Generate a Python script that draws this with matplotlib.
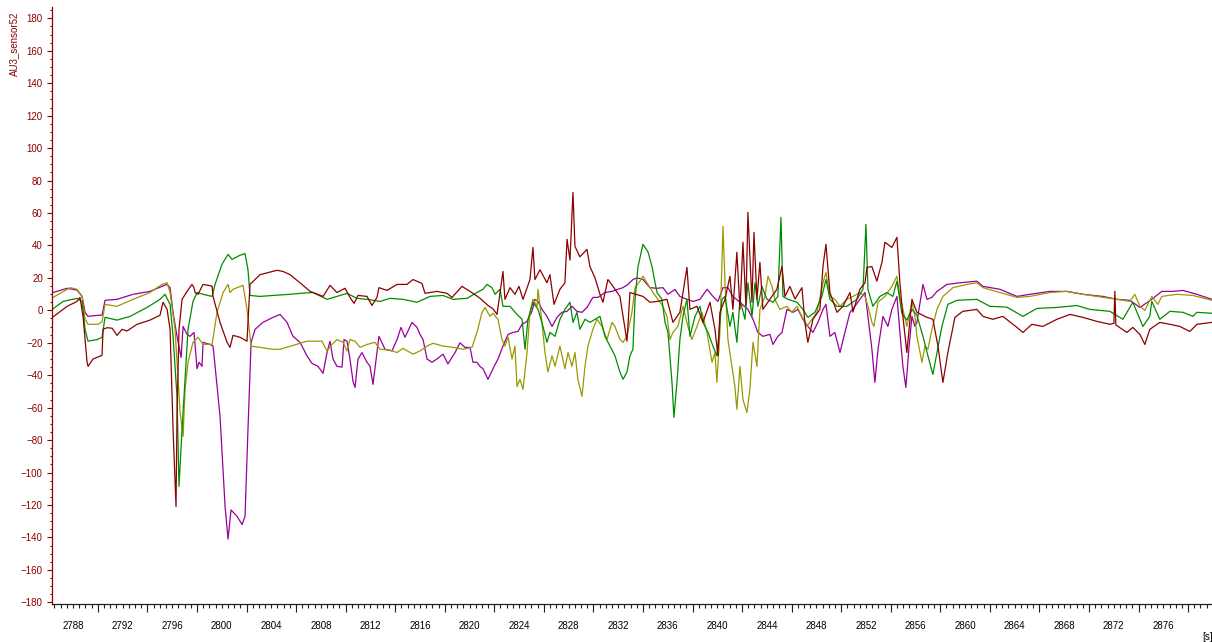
import matplotlib
matplotlib.use("Agg")
import matplotlib.pyplot as plt
from matplotlib.ticker import MultipleLocator, FixedLocator

plt.rcParams['font.family'] = ['Liberation Sans', 'DejaVu Sans']

# channel traces, time in s
t_red = [2786.39, 2787.52, 2788.32, 2788.56, 2788.81, 2789.13, 2789.21, 2789.61, 2790.34, 2790.42,
         2790.74, 2791.15, 2791.55, 2791.95, 2792.36, 2793.16, 2794.21, 2795.02, 2795.26, 2795.59,
         2795.83, 2796.07, 2796.31, 2796.39, 2796.55, 2796.80, 2797.20, 2797.60, 2797.76, 2797.85,
         2798.09, 2798.49, 2799.22, 2799.30, 2799.86, 2800.43, 2800.67, 2800.91, 2801.48, 2802.04,
         2802.28, 2803.09, 2804.46, 2804.95, 2805.51, 2806.32, 2807.13, 2808.18, 2808.74, 2809.30,
         2809.95, 2810.35, 2810.68, 2811.00, 2811.73, 2812.13, 2812.53, 2812.69, 2813.34, 2814.15,
         2814.95, 2815.44, 2816.16, 2816.41, 2817.37, 2818.18, 2818.59, 2819.39, 2820.04, 2820.84,
         2821.49, 2821.89, 2822.22, 2822.70, 2822.86, 2823.27, 2823.67, 2823.99, 2824.32, 2824.88,
         2825.12, 2825.28, 2825.69, 2826.25, 2826.49, 2826.82, 2827.30, 2827.70, 2827.87, 2828.11,
         2828.35, 2828.51, 2828.91, 2829.48, 2829.72, 2830.13, 2830.53, 2830.77, 2831.17, 2831.58,
         2832.14, 2832.71, 2832.95, 2834.00, 2834.56, 2835.13, 2835.94, 2836.42, 2836.98, 2837.55,
         2837.79, 2838.36, 2838.84, 2839.41, 2839.81, 2840.05, 2840.21, 2840.62, 2841.02, 2841.26,
         2841.58, 2841.83, 2842.07, 2842.31, 2842.47, 2842.80, 2842.96, 2843.20, 2843.44, 2843.68,
         2844.25, 2844.81, 2845.22, 2845.46, 2845.86, 2846.27, 2846.83, 2847.07, 2847.31, 2847.72,
         2848.28, 2848.53, 2848.77, 2849.09, 2849.66, 2850.14, 2850.71, 2850.95, 2851.51, 2851.92,
         2852.08, 2852.48, 2852.88, 2853.29, 2853.53, 2854.09, 2854.50, 2854.74, 2854.98, 2855.30,
         2855.71, 2856.11, 2856.92, 2857.40, 2857.81, 2858.21, 2858.61, 2859.18, 2859.82, 2860.95,
         2861.44, 2862.24, 2863.05, 2864.18, 2864.67, 2865.39, 2866.28, 2867.41, 2868.46, 2869.51,
         2870.64, 2871.69, 2872.01, 2872.09, 2872.17, 2873.06, 2873.54, 2874.11, 2874.51, 2874.91,
         2875.72, 2876.53, 2877.33, 2878.14, 2878.71, 2879.92]
v_red = [-4, 2.5, 5.5, 8, -4, -32, -34.5, -30, -27.7, -11.7,
         -10.7, -11, -15.4, -11.7, -12.7, -8.6, -6, -3, 5, 0.6,
         -11.7, -73, -121, -65, -11.7, 6.8, 11.7, 16, 14, 11,
         9.9, 16, 15, 8.6, -7.4, -19.7, -22.8, -15.4, -16.6, -19,
         16, 22, 24.7, 24, 22, 17, 11.7, 8.6, 15.4, 11,
         13.6, 8, 4.3, 9.2, 8.6, 3, 8, 14, 12.3, 16,
         16, 19, 16.6, 10.5, 11.7, 10.5, 8, 14.8, 11.7, 7.5,
         3, 1, -2.5, 24, 6.8, 14, 9.9, 14.8, 6.8, 19,
         38.8, 19, 25, 17, 22, 3.7, 13, 17, 43.8, 31,
         72.7, 39.5, 33, 37.6, 27, 20, 9.9, 5, 19, 14.8,
         8.6, -19, 11, 8.6, 5, 5.5, 6.8, -7.4, -1.2, 26.5,
         0.6, 2.5, -7.4, 5, -11.7, -28, -1.2, 6.8, 21, 0.6,
         35.8, 0.6, 42, 3, 60.4, 5, 48, 6.8, 29.6, 0.6,
         6.8, 13, 27, 8.6, 14.8, 7, 14, -7.4, -19.7, -5.5,
         0.6, 27, 40.7, 11, -1.2, 2.5, 11, -1, 13, 17,
         26.5, 27, 18, 29.6, 42, 38.8, 45, 17, -3.7, -26,
         6.8, -1.2, -4.3, -5.5, -22, -44.4, -26, -4.3, -0.6, 0.6,
         -3.7, -5.5, -3.7, -10.5, -13.6, -8.6, -9.9, -5.5, -2.5, -4.3,
         -6.8, -8.6, -8, 11.7, -9, -13.6, -10.5, -14.8, -21, -11.7,
         -7.4, -8.6, -9.9, -13, -8.6, -7.4]

t_green = [2786.39, 2787.19, 2788.32, 2788.73, 2788.97, 2789.21, 2789.94, 2790.34, 2790.58, 2791.55,
           2792.60, 2793.97, 2795.02, 2795.42, 2795.83, 2796.07, 2796.39, 2796.55, 2796.80, 2797.04,
           2797.28, 2797.68, 2798.01, 2798.49, 2799.22, 2799.46, 2800.02, 2800.51, 2800.83, 2801.48,
           2801.88, 2802.12, 2802.28, 2803.09, 2804.14, 2805.51, 2806.32, 2807.37, 2808.50, 2809.30,
           2810.11, 2810.92, 2811.73, 2812.78, 2813.58, 2814.63, 2815.76, 2816.81, 2817.86, 2818.67,
           2819.80, 2820.60, 2821.09, 2821.41, 2821.81, 2822.06, 2822.46, 2822.70, 2823.27, 2823.83,
           2824.24, 2824.48, 2824.72, 2825.12, 2825.53, 2825.93, 2826.25, 2826.49, 2826.90, 2827.30,
           2827.70, 2828.11, 2828.35, 2828.67, 2828.91, 2829.32, 2829.72, 2830.13, 2830.53, 2830.93,
           2831.34, 2831.74, 2832.14, 2832.39, 2832.71, 2832.95, 2833.19, 2833.36, 2833.60, 2834.00,
           2834.41, 2834.73, 2835.13, 2835.53, 2835.78, 2836.02, 2836.34, 2836.50, 2836.75, 2836.98,
           2837.23, 2837.55, 2837.79, 2838.20, 2838.60, 2838.84, 2839.25, 2839.65, 2839.97, 2840.38,
           2840.62, 2841.02, 2841.26, 2841.58, 2841.83, 2842.23, 2842.47, 2842.80, 2843.04, 2843.28,
           2843.60, 2844.01, 2844.49, 2844.89, 2845.14, 2845.30, 2845.70, 2846.43, 2846.91, 2847.31,
           2847.88, 2848.44, 2848.77, 2849.09, 2849.66, 2850.46, 2851.27, 2851.76, 2852.00, 2852.16,
           2852.56, 2853.13, 2853.69, 2854.17, 2854.50, 2854.90, 2855.30, 2855.71, 2856.11, 2856.60,
           2857.00, 2857.40, 2857.73, 2858.13, 2858.61, 2859.34, 2860.95, 2862.00, 2863.37, 2864.67,
           2865.80, 2867.41, 2869.02, 2870.07, 2871.69, 2872.74, 2873.54, 2874.11, 2874.35, 2874.91,
           2875.07, 2875.72, 2876.53, 2877.58, 2878.39, 2878.71, 2879.92]
v_green = [1, 5.5, 7.4, 5.5, -11.7, -19, -18, -16.6, -4.3, -6,
           -3.7, 1.8, 6.8, 9.9, 3.7, -16, -53, -108.5, -73, -42.5,
           -11.7, 5.5, 11, 9.9, 8.6, 16, 28.4, 34.5, 31.4, 34,
           35, 25, 9.2, 8.6, 9.2, 9.9, 10.5, 11, 6.8, 8.6,
           10.5, 7.4, 6.8, 5.5, 7.4, 6.8, 5, 8.6, 9.2, 6.8,
           7.4, 11, 13, 16, 14, 9.9, 13, 2.5, 2.5, -2.5,
           -5.5, -24, -5.5, 5, 0.6, -9.9, -19.7, -13.6, -16, -5.5,
           0.6, 5, -7.4, -1.2, -11.7, -5.5, -7.4, -5.5, -3.7, -16,
           -22, -28, -38, -42.5, -38, -28, -24, 6.8, 27, 40.7,
           36, 27, 11, 6.8, -7.4, -13.6, -44, -66, -44, -18,
           -3.7, 6.8, -16, -3.7, 2.5, -7.4, -13.6, -22, -28, 6.8,
           8.6, -9.9, -1.2, -19.7, 6.8, -5.5, 17, -3.7, 17, 2.5,
           14.8, 6.8, 5, 8.6, 57.3, 8.6, 6.8, 5, 0.6, -4.3,
           -1.2, 8.6, 19, 6.8, 2.5, 2.5, 6.8, 13, 53, 13,
           2.5, 8.6, 11, 8.6, 18, -2, -6, 0.6, -3, -16,
           -28, -39.5, -26, -9.9, 3.7, 6.2, 6.8, 2.5, 2, -3.7,
           1.2, 1.8, 3, 0.6, -0.6, -5.5, 5, -5.5, -9.9, -3.7,
           5.5, -5.5, -0.6, -1.2, -3.7, -1.2, -1.8]

t_olive = [2786.39, 2787.76, 2788.32, 2788.73, 2788.97, 2789.21, 2790.02, 2790.34, 2790.58, 2791.55,
           2792.84, 2794.21, 2795.18, 2795.59, 2795.83, 2796.23, 2796.64, 2796.88, 2797.04, 2797.28,
           2797.68, 2798.09, 2798.49, 2799.22, 2799.62, 2800.11, 2800.51, 2800.67, 2800.91, 2801.72,
           2802.04, 2802.37, 2803.09, 2804.14, 2804.71, 2805.75, 2806.88, 2808.09, 2808.50, 2808.90,
           2809.30, 2809.79, 2810.11, 2810.35, 2810.76, 2811.16, 2811.73, 2812.37, 2812.78, 2813.58,
           2814.15, 2814.63, 2815.44, 2816.00, 2816.57, 2817.05, 2817.86, 2818.67, 2819.47, 2820.20,
           2820.60, 2821.01, 2821.25, 2821.65, 2821.89, 2822.30, 2822.62, 2822.86, 2823.11, 2823.43,
           2823.67, 2823.83, 2824.07, 2824.32, 2824.64, 2824.88, 2825.12, 2825.45, 2825.53, 2825.85,
           2826.09, 2826.33, 2826.66, 2826.90, 2827.30, 2827.70, 2827.95, 2828.27, 2828.51, 2828.75,
           2829.08, 2829.32, 2829.56, 2829.96, 2830.29, 2830.69, 2831.09, 2831.50, 2831.74, 2832.14,
           2832.39, 2832.71, 2833.11, 2833.36, 2833.76, 2834.00, 2834.41, 2834.81, 2835.21, 2835.61,
           2835.94, 2836.18, 2836.42, 2836.82, 2837.23, 2837.63, 2837.95, 2838.36, 2838.76, 2839.17,
           2839.57, 2839.81, 2839.97, 2840.21, 2840.46, 2840.62, 2840.86, 2841.18, 2841.42, 2841.58,
           2841.83, 2842.07, 2842.39, 2842.63, 2842.88, 2843.20, 2843.44, 2843.84, 2844.09, 2844.41,
           2844.65, 2845.05, 2845.61, 2846.01, 2846.43, 2846.83, 2847.23, 2847.64, 2848.04, 2848.53,
           2848.77, 2849.09, 2849.49, 2849.90, 2850.46, 2850.95, 2851.51, 2851.92, 2852.16, 2852.48,
           2852.64, 2852.97, 2853.53, 2854.09, 2854.50, 2854.74, 2854.98, 2855.30, 2855.71, 2855.95,
           2856.11, 2856.52, 2856.76, 2857.00, 2857.32, 2857.73, 2858.21, 2859.02, 2860.15, 2860.95,
           2861.44, 2862.81, 2864.18, 2865.23, 2866.84, 2868.21, 2869.51, 2871.13, 2872.26, 2873.30,
           2873.70, 2874.11, 2874.51, 2875.07, 2875.56, 2875.88, 2877.09, 2878.39, 2879.92]
v_olive = [8, 14, 13, 8.6, -5.5, -8.6, -8.6, -7, 3.7, 2.5,
           6.8, 11, 16, 17, 11, -11.7, -63, -77.7, -48.7, -32,
           -19.7, -16.6, -21, -21, -1.2, 11, 16, 11, 13, 15.4,
           0.6, -22, -22.8, -24, -24, -21.6, -19, -19, -25, -21,
           -18, -19.7, -25, -18, -19, -22.8, -21, -19.7, -24, -24.5,
           -26, -23.4, -27, -25, -22, -20.3, -22, -22.8, -24, -22.8,
           -13.6, -1.2, 1.8, -3.7, -1.8, -5.5, -18, -22, -16.6, -30,
           -22, -47, -42.5, -48.7, -26, -1.2, 6.8, 2.5, 13, -7.4,
           -26, -38, -28, -34.5, -22, -36, -26, -34.5, -26, -42.5,
           -53, -34.5, -22, -11.7, -5.5, -9.9, -18, -7.4, -9.9, -18,
           -19.7, -16, -1.2, 14, 18, 21, 16, 11, 6.8, 2.5,
           -3.7, -18, -13.6, -9.9, 2.5, -9.9, -18, -9.9, -1.2, -13.6,
           -32, -26, -44.4, -13.6, 51.8, 17, -18, -34.5, -47, -61,
           -34.5, -55, -63, -48.7, -19.7, -34.5, 0.6, 8.6, 21, 15,
           6.8, 0.6, 2.5, -1.2, 2.5, -3.7, -9.9, -5.5, -1.2, 17,
           23.4, 8.6, 6.8, 2.5, 6.8, 8.6, 11, 8.6, 2.5, -7.4,
           -9.9, 5, 8.6, 14.8, 21, 8.6, 0.6, -9.9, 5, -3.7,
           -16, -32, -22, -24, -11.7, 0.6, 8.6, 14, 16, 17,
           14, 11, 8, 8.6, 11, 11.7, 9.9, 8, 6.8, 5.5,
           9.9, 2.5, 0, 8.6, 3.7, 8.6, 9.9, 9.2, 6.2]

t_purple = [2786.39, 2787.52, 2788.32, 2788.73, 2788.97, 2789.21, 2790.02, 2790.34, 2790.58, 2791.55,
            2792.84, 2794.21, 2795.18, 2795.59, 2795.83, 2796.07, 2796.39, 2796.72, 2796.88, 2797.20,
            2797.44, 2797.76, 2798.01, 2798.17, 2798.41, 2798.49, 2799.06, 2799.30, 2799.86, 2800.27,
            2800.51, 2800.75, 2801.24, 2801.64, 2801.88, 2802.12, 2802.37, 2802.69, 2803.33, 2804.14,
            2804.71, 2805.27, 2805.75, 2806.32, 2806.88, 2807.29, 2807.77, 2808.18, 2808.50, 2808.74,
            2808.98, 2809.30, 2809.71, 2809.87, 2810.11, 2810.35, 2810.60, 2810.76, 2811.00, 2811.32,
            2811.73, 2811.97, 2812.21, 2812.53, 2812.69, 2813.18, 2813.74, 2814.15, 2814.47, 2814.79,
            2815.36, 2815.76, 2816.00, 2816.25, 2816.57, 2816.97, 2817.37, 2817.86, 2818.26, 2818.83,
            2819.23, 2819.63, 2820.04, 2820.28, 2820.60, 2820.84, 2821.09, 2821.49, 2821.89, 2822.30,
            2822.70, 2823.11, 2823.51, 2823.91, 2824.24, 2824.64, 2825.04, 2825.28, 2825.53, 2825.85,
            2826.25, 2826.66, 2827.06, 2827.46, 2827.87, 2828.27, 2828.67, 2829.08, 2829.48, 2829.96,
            2830.37, 2830.93, 2831.50, 2831.98, 2832.39, 2832.79, 2833.19, 2833.52, 2834.00, 2834.56,
            2835.13, 2835.61, 2836.02, 2836.58, 2836.98, 2837.55, 2838.04, 2838.60, 2839.17, 2839.65,
            2840.05, 2840.46, 2840.86, 2841.26, 2841.83, 2842.47, 2842.88, 2843.28, 2843.68, 2844.25,
            2844.49, 2844.89, 2845.22, 2845.62, 2846.11, 2846.51, 2846.91, 2847.31, 2847.72, 2848.12,
            2848.53, 2848.77, 2849.09, 2849.49, 2849.90, 2850.30, 2850.71, 2851.11, 2851.51, 2851.92,
            2852.16, 2852.48, 2852.72, 2852.97, 2853.37, 2853.77, 2854.09, 2854.50, 2854.74, 2854.98,
            2855.22, 2855.46, 2855.71, 2855.95, 2856.11, 2856.60, 2856.92, 2857.32, 2857.73, 2858.53,
            2859.58, 2860.95, 2861.44, 2862.81, 2864.18, 2865.23, 2866.84, 2868.21, 2869.51, 2871.13,
            2872.26, 2873.30, 2874.11, 2875.07, 2875.88, 2876.77, 2877.58, 2878.71, 2879.92]
v_purple = [11, 13.6, 12.5, 8.6, -1.2, -3.7, -3, -3, 6.2, 6.8,
            9.9, 11.7, 14.8, 16, 14, -1.2, -16, -29, -9.9, -14.8,
            -16, -13.6, -36, -32, -34.5, -19.7, -21, -22, -65, -121,
            -141, -123, -127, -132, -127, -73, -19.7, -11.7, -7.4, -4.3,
            -2.5, -7.4, -16, -19.7, -28, -32.7, -34.5, -38.8, -26, -19,
            -30, -34.5, -35, -18, -19, -30, -44, -47.5, -30, -26,
            -32, -34.5, -45.6, -26, -16, -24, -25, -18, -10.5, -16.6,
            -7.4, -10.5, -14.8, -18, -30, -32, -30, -27, -33, -26,
            -20, -22.8, -22.8, -32, -32, -34.5, -36, -42.5, -36, -30,
            -22, -14.8, -13.6, -13, -8.6, -6.8, -0.6, 6.8, 5.5, 0.6,
            -3.7, -9.9, -4.3, -1.2, -0.6, 2.5, -0.6, -1.2, 1.8, 8,
            8, 11, 11.7, 13, 14, 16, 19, 20, 19, 14,
            13.6, 14, 9.9, 12.9, 8.6, 6.8, 5.5, 6.8, 13, 8.6,
            5.5, 14, 14, 8.6, 5, 0.6, -5.5, -13.6, -16, -14.8,
            -21, -16, -13.6, 0.6, -1.2, 0.6, -5.5, -9.9, -13.6, -7.4,
            0.6, 3.7, -16, -13.6, -26, -13.6, -1.2, 2.5, 6.8, 11,
            -3.7, -24, -44.4, -24, -3.7, -9.9, 0.6, 8.6, -13.6, -34.5,
            -47.5, -24, -3.7, -9.9, -7.4, 16, 6.8, 8, 11.7, 16,
            17, 18, 14.8, 13, 8.6, 9.9, 11.7, 11.7, 9.9, 8.6,
            6.8, 6.2, 1.8, 6.8, 11.7, 11.7, 12.3, 9.9, 6.8]

x_labels = list(range(2788, 2880, 4))
x_long = list(range(2790, 2880, 4))

axis_red = '#8c0000'
traces = [
    (t_purple, v_purple, '#990099'),
    (t_olive, v_olive, '#999900'),
    (t_green, v_green, '#008c00'),
    (t_red, v_red, '#8c0000'),
]

fig = plt.figure(figsize=(12.12, 6.42), dpi=100)
ax = fig.add_axes([52 / 1212, 38 / 642, 1160 / 1212, 597 / 642])

for t, v, c in traces:
    ax.plot(t, v, color=c, lw=0.9)

ax.set_xlim(2786.3, 2879.93)
ax.set_ylim(-181, 187)

ax.spines['top'].set_visible(False)
ax.spines['right'].set_visible(False)
ax.spines['left'].set_color(axis_red)
ax.spines['left'].set_linewidth(0.9)
ax.spines['bottom'].set_color('#202020')
ax.spines['bottom'].set_linewidth(0.9)

ax.yaxis.set_major_locator(MultipleLocator(20))
ax.yaxis.set_minor_locator(MultipleLocator(5))
ax.tick_params(axis='y', which='major', length=3.6, width=0.8, colors=axis_red,
               pad=3, labelsize=7)
ax.tick_params(axis='y', which='minor', length=1.8, width=0.8, colors=axis_red)

ax.xaxis.set_major_locator(FixedLocator(x_labels))
ax.xaxis.set_minor_locator(MultipleLocator(0.5))
ax.tick_params(axis='x', which='major', length=3.2, width=0.8, color='#202020',
               labelcolor='black', pad=9, labelsize=7)
ax.tick_params(axis='x', which='minor', length=3.2, width=0.8, color='#202020')

# longer marks every 4 s sit halfway between the labels
secax = ax.secondary_xaxis('bottom')
secax.set_xticks(x_long)
secax.tick_params(length=5.8, width=0.8, color='#202020', labelbottom=False)
secax.spines['bottom'].set_visible(False)

fig.text(14 / 1212, 1 - 12 / 642, 'AU3_sensor52', rotation=90, ha='center', va='top',
         fontsize=7, color=axis_red)
fig.text(1202 / 1212, 1 - 637 / 642, '[s]', ha='left', va='center', fontsize=7)

fig.savefig('out.png', dpi=100)
